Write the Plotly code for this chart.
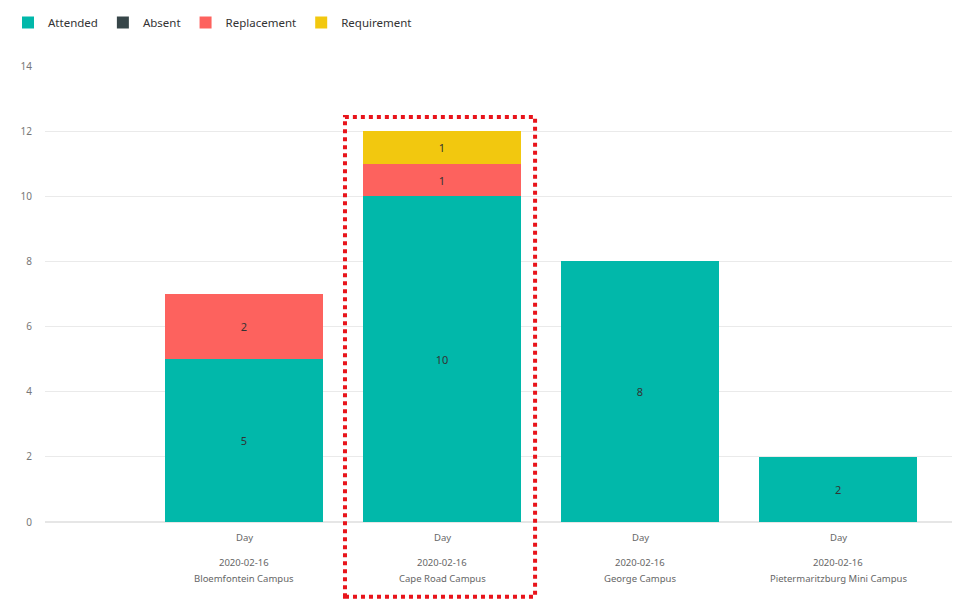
import plotly.graph_objects as go

campuses = ["Bloemfontein Campus", "Cape Road Campus", "George Campus", "Pietermaritzburg Mini Campus"]
period_label = "Day"
date_label = "2020-02-16"
attended = [5, 10, 8, 2]
absent = [0, 0, 0, 0]
replacement = [2, 1, 0, 0]
requirement = [0, 1, 0, 0]

series = [
    ("Attended", attended, "#01B8AA"),
    ("Absent", absent, "#374649"),
    ("Replacement", replacement, "#FD625E"),
    ("Requirement", requirement, "#F2C80F"),
]

FONT = "Noto Sans"
fig = go.Figure()
for name, vals, col in series:
    fig.add_trace(go.Bar(
        name=name, x=campuses, y=vals,
        marker=dict(color=col, line=dict(width=0)),
        text=[str(v) if v else "" for v in vals],
        textposition="inside", insidetextanchor="middle",
        textangle=0, constraintext="none",
        textfont=dict(family=FONT, size=11, color="#333333"),
    ))

x_range = [-1.005, 3.616]

annotations = []
for c in campuses:
    annotations.append(dict(x=c, xref="x", y=0, yref="paper", yanchor="middle",
                            yshift=-15, text=period_label, showarrow=False,
                            font=dict(family=FONT, size=9.5, color="#666666")))
    annotations.append(dict(x=c, xref="x", y=0, yref="paper", yanchor="middle",
                            yshift=-40, text=date_label, showarrow=False,
                            font=dict(family=FONT, size=9.5, color="#666666")))
    annotations.append(dict(x=c, xref="x", y=0, yref="paper", yanchor="middle",
                            yshift=-56, text=c, showarrow=False,
                            font=dict(family=FONT, size=9.5, color="#666666")))

# highlight box around the second category (in paper coords derived from axis range)
def xpaper(v):
    return (v - x_range[0]) / (x_range[1] - x_range[0])

hl = campuses.index("Cape Road Campus")
fig.add_shape(type="rect", xref="paper", yref="paper",
              x0=xpaper(hl - 0.49), x1=xpaper(hl + 0.47),
              y0=-0.164, y1=0.888,
              line=dict(color="#E8141B", width=4, dash="dot"),
              fillcolor="rgba(0,0,0,0)", layer="above")

fig.update_layout(
    width=952, height=604,
    barmode="stack", bargap=0.2,
    plot_bgcolor="white", paper_bgcolor="white",
    margin=dict(l=37, r=0, t=58, b=90),
    font=dict(family=FONT, size=10, color="#666666"),
    showlegend=True,
    legend=dict(orientation="h", x=-0.008, xref="container", xanchor="left",
                y=1.0, yref="container", yanchor="top",
                font=dict(family=FONT, size=11.5, color="#333333"),
                traceorder="normal", itemwidth=30),
    annotations=annotations,
)
fig.update_xaxes(type="category", range=x_range, showticklabels=False,
                 showgrid=False, showline=True, linecolor="#e6e6e6", linewidth=1,
                 ticks="", zeroline=False)
fig.update_yaxes(range=[0, 14], dtick=2, showgrid=True, gridcolor="#eaeaea",
                 gridwidth=1, zeroline=True, zerolinecolor="#e6e6e6",
                 ticks="", ticklabelstandoff=12,
                 tickfont=dict(family=FONT, size=10, color="#777777"))

fig.write_html("out.html")
